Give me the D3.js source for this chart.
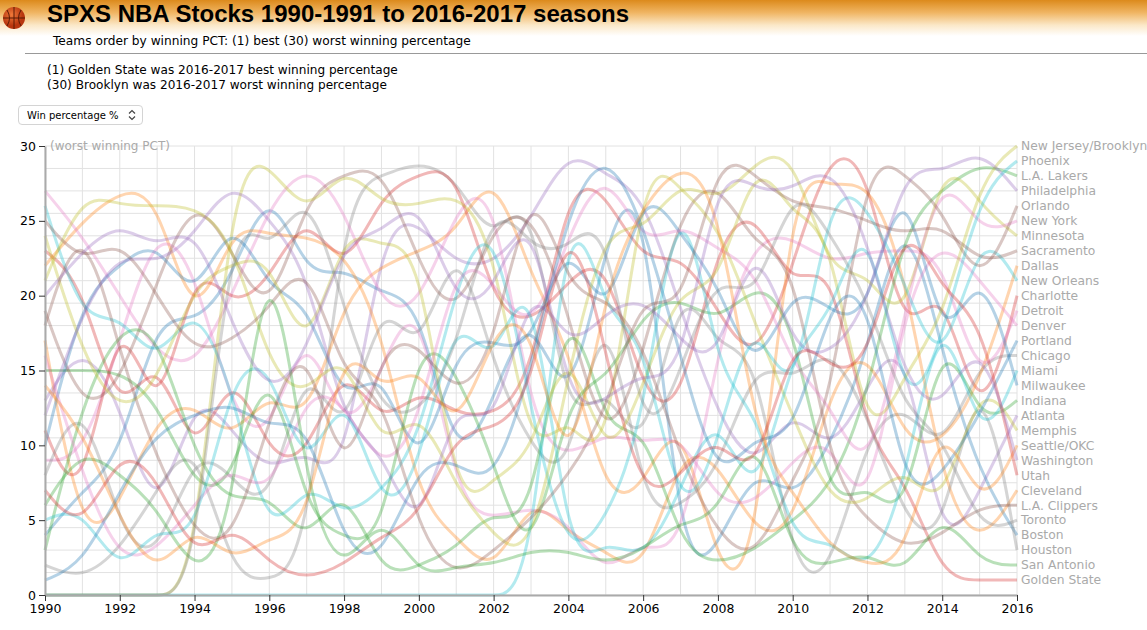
<!DOCTYPE html>
<html>
<head>
<meta charset="utf-8">
<script src="https://cdn.jsdelivr.net/npm/d3@7"></script>
<style>
  body { margin: 0; width: 1147px; height: 630px; overflow: hidden; background: #fff;
         font-family: "DejaVu Sans", Verdana, sans-serif; }
  #header { position: absolute; left: 0; top: 0; width: 1147px; height: 36px;
            background: linear-gradient(to bottom, #dc8a1c 0%, #f0b563 35%, #fbe8c8 70%, #ffffff 100%); }
  #chart { position: absolute; left: 0; top: 0; }
  #metric { position: absolute; left: 18px; top: 105px; width: 125px; height: 20px;
            font-family: "DejaVu Sans", Verdana, sans-serif; font-size: 10px;
            border: 1px solid #d4d4d4; border-radius: 4px; padding: 0 0 0 8px;
            -webkit-appearance: none; appearance: none;
            background: #fff url("data:image/svg+xml;utf8,<svg xmlns='http://www.w3.org/2000/svg' width='10' height='14'><path d='M2 5.5L5 2.5L8 5.5M2 8.5L5 11.5L8 8.5' fill='none' stroke='%23444' stroke-width='1.2'/></svg>") no-repeat right 5px center; }
</style>
</head>
<body>
<div id="header"></div>
<svg id="chart" width="1147" height="630"></svg>
<select id="metric"><option>Win percentage %</option></select>
<script>
// 시즌 (1990 = 1990-1991 시즌)
const years = [1990, 1991, 1992, 1993, 1994, 1995, 1996, 1997, 1998, 1999, 2000, 2001, 2002,
  2003, 2004, 2005, 2006, 2007, 2008, 2009, 2010, 2011, 2012, 2013, 2014, 2015, 2016];

// 팀별 승률 순위 (1 = best, 30 = worst, 0 = 팀 없음)
const atlanta      = [13, 17, 13, 4, 14, 11, 8, 10, 7, 25, 25, 22, 22, 25, 30, 28, 27, 19, 12, 8, 13, 9, 14, 18, 2, 7, 12];
const boston       = [4, 7, 9, 19, 18, 21, 28, 21, 22, 20, 20, 8, 13, 20, 11, 24, 29, 1, 3, 9, 6, 10, 16, 27, 16, 8, 4];
const charlotte    = [23, 21, 11, 17, 8, 16, 9, 9, 16, 11, 14, 12, 12, 14, 28, 27, 22, 23, 19, 15, 22, 30, 29, 16, 22, 10, 20];
const chicago      = [2, 1, 3, 7, 11, 1, 1, 2, 27, 28, 29, 28, 23, 28, 10, 15, 8, 22, 16, 17, 1, 1, 11, 13, 9, 16, 16];
const cleveland    = [17, 3, 6, 12, 13, 10, 14, 11, 20, 22, 23, 24, 29, 21, 17, 6, 7, 13, 1, 1, 29, 27, 28, 22, 7, 3, 7];
const dallas       = [22, 25, 27, 27, 17, 25, 24, 24, 23, 18, 6, 4, 1, 7, 4, 3, 1, 10, 9, 4, 4, 14, 17, 10, 10, 14, 22];
const denver       = [27, 24, 20, 16, 15, 20, 26, 29, 26, 19, 19, 26, 28, 11, 9, 11, 10, 11, 6, 6, 9, 11, 4, 20, 24, 21, 18];
const detroit      = [9, 9, 17, 25, 22, 12, 10, 19, 10, 15, 21, 6, 5, 6, 5, 1, 4, 2, 17, 24, 24, 22, 23, 23, 23, 13, 19];
const goldenState  = [11, 5, 21, 10, 23, 19, 21, 26, 21, 27, 28, 29, 19, 18, 21, 23, 13, 12, 24, 26, 20, 23, 10, 8, 1, 1, 1];
const houston      = [8, 14, 4, 2, 10, 8, 5, 17, 9, 21, 15, 25, 15, 10, 7, 22, 5, 6, 8, 16, 14, 17, 12, 5, 3, 17, 3];
const indiana      = [15, 15, 15, 13, 7, 7, 17, 5, 4, 3, 18, 15, 9, 1, 14, 14, 19, 20, 18, 21, 19, 5, 8, 4, 19, 11, 13];
const laClippers   = [19, 12, 14, 21, 27, 23, 18, 27, 28, 29, 22, 18, 25, 26, 19, 9, 16, 26, 28, 23, 23, 8, 5, 3, 4, 6, 6];
const laLakers     = [3, 13, 18, 18, 9, 6, 7, 3, 8, 1, 2, 3, 6, 4, 22, 10, 12, 3, 2, 3, 5, 7, 13, 25, 27, 29, 28];
const memphis      = [0, 0, 0, 0, 0, 29, 29, 25, 29, 26, 26, 27, 24, 8, 13, 7, 30, 27, 25, 18, 12, 6, 6, 9, 5, 15, 11];
const miami        = [26, 18, 19, 15, 20, 14, 3, 8, 5, 7, 10, 21, 26, 12, 2, 5, 11, 30, 14, 13, 3, 4, 1, 7, 21, 9, 15];
const milwaukee    = [10, 20, 22, 24, 19, 26, 20, 20, 12, 16, 7, 17, 17, 16, 25, 17, 28, 24, 21, 14, 21, 19, 18, 30, 15, 23, 14];
const minnesota    = [21, 27, 26, 26, 26, 24, 15, 13, 17, 9, 13, 7, 4, 2, 15, 25, 24, 28, 26, 29, 30, 21, 22, 17, 30, 26, 24];
const newJersey    = [24, 16, 12, 14, 21, 22, 23, 15, 25, 23, 24, 5, 8, 9, 18, 8, 14, 21, 20, 30, 25, 25, 9, 15, 18, 28, 30];
const newOrleans   = [0, 0, 0, 0, 0, 0, 0, 0, 0, 0, 0, 0, 0, 0, 29, 18, 18, 4, 10, 20, 11, 28, 26, 21, 14, 25, 21];
const newYork      = [16, 8, 2, 3, 6, 9, 6, 14, 13, 8, 11, 23, 21, 17, 24, 29, 23, 25, 23, 22, 15, 13, 7, 19, 29, 24, 25];
const orlando      = [18, 26, 16, 9, 4, 3, 12, 18, 6, 17, 17, 13, 16, 29, 20, 20, 17, 9, 4, 2, 8, 12, 30, 28, 26, 20, 26];
const philadelphia = [12, 19, 23, 22, 24, 28, 25, 22, 11, 10, 3, 14, 10, 22, 16, 19, 20, 17, 15, 25, 16, 16, 19, 29, 28, 30, 27];
const phoenix      = [5, 6, 1, 5, 3, 15, 16, 7, 15, 5, 8, 20, 14, 24, 1, 4, 2, 7, 13, 5, 17, 18, 27, 11, 17, 27, 29];
const portland     = [1, 2, 7, 11, 12, 13, 11, 12, 3, 2, 9, 9, 7, 15, 26, 30, 25, 16, 7, 11, 10, 20, 21, 6, 8, 12, 17];
const sacramento   = [25, 22, 24, 20, 16, 17, 19, 23, 14, 14, 4, 1, 3, 5, 8, 12, 21, 18, 30, 28, 26, 26, 25, 24, 25, 22, 23];
const sanAntonio   = [6, 10, 8, 6, 1, 4, 27, 6, 1, 6, 1, 2, 2, 3, 3, 2, 3, 5, 5, 12, 2, 2, 3, 1, 6, 2, 2];
const seattle      = [14, 11, 5, 1, 5, 2, 4, 4, 18, 13, 16, 10, 18, 19, 6, 21, 26, 29, 27, 10, 7, 3, 2, 2, 13, 5, 10];
const toronto      = [0, 0, 0, 0, 0, 27, 22, 28, 19, 12, 12, 16, 27, 23, 23, 26, 9, 15, 22, 19, 28, 24, 20, 12, 11, 4, 5];
const utah         = [7, 4, 10, 8, 2, 5, 2, 1, 2, 4, 5, 11, 11, 13, 27, 16, 6, 8, 11, 7, 18, 15, 15, 26, 20, 19, 8];
const washington   = [20, 23, 25, 23, 25, 18, 13, 16, 24, 24, 27, 19, 20, 27, 12, 13, 15, 14, 29, 27, 27, 29, 24, 14, 12, 18, 9];

// 팀 이름과 각 팀 색상 (d3.schemeCategory10 순번)
const teamNames = ["Atlanta", "Boston", "Charlotte", "Chicago", "Cleveland", "Dallas", "Denver", "Detroit",
  "Golden State", "Houston", "Indiana", "L.A. Clippers", "L.A. Lakers", "Memphis", "Miami", "Milwaukee",
  "Minnesota", "New Jersey/Brooklyn", "New Orleans", "New York", "Orlando", "Philadelphia", "Phoenix",
  "Portland", "Sacramento", "San Antonio", "Seattle/OKC", "Toronto", "Utah", "Washington"];
const teamColorIdx = [4, 0, 3, 7, 1, 1, 6, 6, 3, 7, 2, 5, 2, 8, 9, 0, 8, 8, 9, 6, 5, 4, 9, 0, 5, 2, 1, 7, 3, 4];
const teamRanks = [atlanta, boston, charlotte, chicago, cleveland, dallas, denver, detroit, goldenState,
  houston, indiana, laClippers, laLakers, memphis, miami, milwaukee, minnesota, newJersey, newOrleans,
  newYork, orlando, philadelphia, phoenix, portland, sacramento, sanAntonio, seattle, toronto, utah, washington];

// 축 눈금
const xTicks = [1990, 1992, 1994, 1996, 1998, 2000, 2002, 2004, 2006, 2008, 2010, 2012, 2014, 2016];
const yTicks = [0, 5, 10, 15, 20, 25, 30];

const series = teamNames.map((name, i) => ({
  name: name,
  color: d3.schemeCategory10[teamColorIdx[i]],
  values: teamRanks[i].map((r, j) => ({ year: years[j], rank: r }))
}));

const svg = d3.select("#chart");

// 헤더: 로고, 제목, 부제목
const logo = svg.append("g").attr("transform", "translate(14,18)");
const grad = svg.append("defs").append("radialGradient").attr("id", "ball").attr("cx", "40%").attr("cy", "35%");
grad.append("stop").attr("offset", "0%").attr("stop-color", "#f07a3a");
grad.append("stop").attr("offset", "100%").attr("stop-color", "#b8360f");
logo.append("circle").attr("r", 11).attr("fill", "url(#ball)");
logo.append("path").attr("d", "M0,-11V11M-11,0H11M-7,-8Q-2,0 -7,8M7,-8Q2,0 7,8")
  .attr("fill", "none").attr("stroke", "#5a1a05").attr("stroke-width", 1);

svg.append("text").attr("x", 47).attr("y", 22)
  .attr("font-family", "'Liberation Sans', Arial, sans-serif").attr("font-weight", "bold")
  .attr("font-size", 24).text("SPXS NBA Stocks 1990-1991 to 2016-2017 seasons");
svg.append("text").attr("x", 53).attr("y", 45).attr("font-size", 12.2)
  .text("Teams order by winning PCT: (1) best (30) worst winning percentage");
svg.append("line").attr("x1", 25).attr("x2", 1147).attr("y1", 53.5).attr("y2", 53.5)
  .attr("stroke", "#999");
svg.append("text").attr("x", 47).attr("y", 74).attr("font-size", 12.1)
  .text("(1) Golden State was 2016-2017 best winning percentage");
svg.append("text").attr("x", 47).attr("y", 89).attr("font-size", 12.1)
  .text("(30) Brooklyn was 2016-2017 worst winning percentage");

// 스케일
const xScale = d3.scaleLinear().domain([1990, 2016]).range([45, 1017]);
const yScale = d3.scaleLinear().domain([0, 30]).range([595, 146]);

// 격자
const grid = svg.append("g").attr("stroke", "#e2e2e2").attr("stroke-width", 1);
grid.selectAll(".vx").data(years).enter().append("line")
  .attr("x1", d => xScale(d)).attr("x2", d => xScale(d))
  .attr("y1", yScale(30)).attr("y2", yScale(0));
grid.selectAll(".hy").data(d3.range(21).map(i => i * 1.5)).enter().append("line")
  .attr("x1", xScale(1990)).attr("x2", xScale(2016))
  .attr("y1", d => yScale(d)).attr("y2", d => yScale(d));

// 팀별 라인
const line = d3.line()
  .x(d => xScale(d.year))
  .y(d => yScale(d.rank))
  .curve(d3.curveBasis);

svg.append("g").selectAll("path").data(series).enter().append("path")
  .attr("d", d => line(d.values))
  .attr("fill", "none")
  .attr("stroke", d => d.color)
  .attr("stroke-width", 3)
  .attr("stroke-opacity", 0.33);

// 축
const xAxis = svg.append("g").attr("transform", `translate(0,${yScale(0)})`)
  .call(d3.axisBottom(xScale).tickValues(xTicks).tickFormat(d3.format("d")).tickSizeOuter(0));
const yAxis = svg.append("g").attr("transform", `translate(${xScale(1990)},0)`)
  .call(d3.axisLeft(yScale).tickValues(yTicks).tickSizeOuter(0));
[xAxis, yAxis].forEach(ax => {
  ax.select(".domain").attr("stroke", "#aaa").attr("stroke-width", 2);
  ax.selectAll("text").attr("font-family", "'DejaVu Sans', Verdana, sans-serif").attr("font-size", 12.5).attr("fill", "#000");
  ax.selectAll(".tick line").attr("stroke", "#333");
});

svg.append("text").attr("x", 50).attr("y", yScale(30)).attr("dy", "0.35em")
  .attr("font-size", 12).attr("fill", "#aaa").text("(worst winning PCT)");

// 오른쪽 팀 이름 (마지막 시즌 순위 위치)
svg.append("g").selectAll("text").data(series).enter().append("text")
  .attr("x", xScale(2016) + 4)
  .attr("y", d => yScale(d.values[d.values.length - 1].rank))
  .attr("dy", "0.35em")
  .attr("font-size", 12.3)
  .attr("fill", "#aaa")
  .text(d => d.name);
</script>
</body>
</html>
